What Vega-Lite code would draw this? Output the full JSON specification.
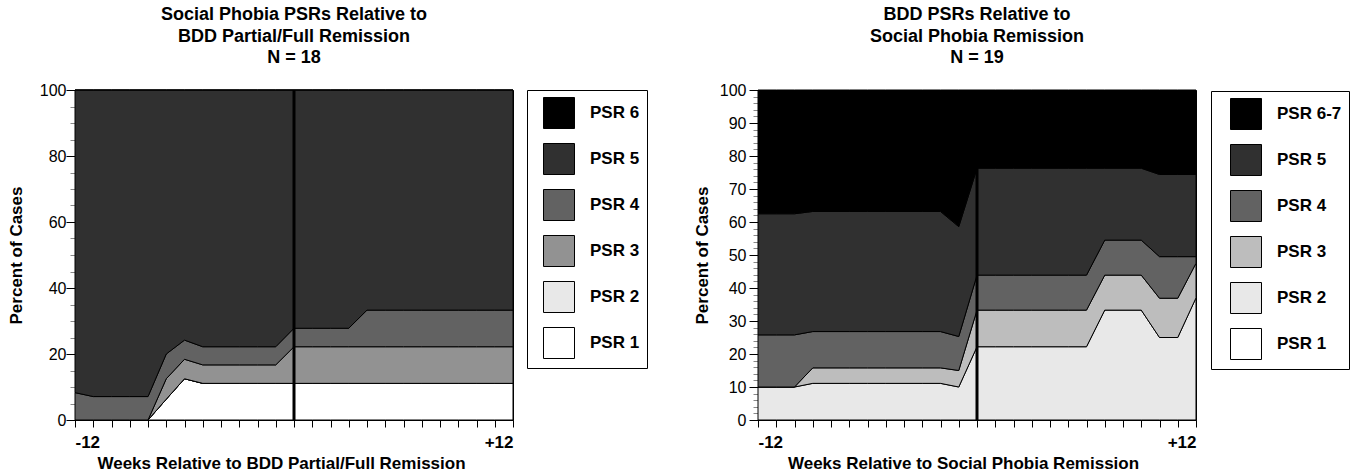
{
  "$schema": "https://vega.github.io/schema/vega-lite/v6.json",
  "background": "white",
  "padding": {"left": 6, "top": 5, "right": 0, "bottom": 0},
  "config": {
    "font": "Liberation Sans",
    "view": {"stroke": "black", "strokeWidth": 1},
    "axis": {"grid": false, "domainColor": "black", "tickColor": "black", "tickWidth": 1, "tickRound": true, "labelColor": "black", "titleColor": "black", "labelFont": "Liberation Sans", "titleFont": "Liberation Sans"},
    "title": {"font": "Liberation Sans", "fontSize": 18, "fontWeight": "bold", "lineHeight": 21.5, "color": "black", "anchor": "middle", "offset": 15},
    "legend": {"labelFont": "Liberation Sans"}
  },
  "datasets": {
    "left": [
      {"week": -12, "PSR 1": 0, "PSR 2": 0, "PSR 3": 0, "PSR 4": 8.3, "PSR 5": 91.7, "PSR 6": 0},
      {"week": -11, "PSR 1": 0, "PSR 2": 0, "PSR 3": 0, "PSR 4": 7.1, "PSR 5": 92.9, "PSR 6": 0},
      {"week": -10, "PSR 1": 0, "PSR 2": 0, "PSR 3": 0, "PSR 4": 7.1, "PSR 5": 92.9, "PSR 6": 0},
      {"week": -9, "PSR 1": 0, "PSR 2": 0, "PSR 3": 0, "PSR 4": 7.1, "PSR 5": 92.9, "PSR 6": 0},
      {"week": -8, "PSR 1": 0, "PSR 2": 0, "PSR 3": 0, "PSR 4": 7.1, "PSR 5": 92.9, "PSR 6": 0},
      {"week": -7, "PSR 1": 6.3, "PSR 2": 0, "PSR 3": 6.2, "PSR 4": 7.5, "PSR 5": 80, "PSR 6": 0},
      {"week": -6, "PSR 1": 12.5, "PSR 2": 0, "PSR 3": 5.9, "PSR 4": 5.8, "PSR 5": 75.8, "PSR 6": 0},
      {"week": -5, "PSR 1": 11.1, "PSR 2": 0, "PSR 3": 5.6, "PSR 4": 5.5, "PSR 5": 77.8, "PSR 6": 0},
      {"week": -4, "PSR 1": 11.1, "PSR 2": 0, "PSR 3": 5.6, "PSR 4": 5.5, "PSR 5": 77.8, "PSR 6": 0},
      {"week": -3, "PSR 1": 11.1, "PSR 2": 0, "PSR 3": 5.6, "PSR 4": 5.5, "PSR 5": 77.8, "PSR 6": 0},
      {"week": -2, "PSR 1": 11.1, "PSR 2": 0, "PSR 3": 5.6, "PSR 4": 5.5, "PSR 5": 77.8, "PSR 6": 0},
      {"week": -1, "PSR 1": 11.1, "PSR 2": 0, "PSR 3": 5.6, "PSR 4": 5.5, "PSR 5": 77.8, "PSR 6": 0},
      {"week": 0, "PSR 1": 11.1, "PSR 2": 0, "PSR 3": 11.1, "PSR 4": 5.6, "PSR 5": 72.2, "PSR 6": 0},
      {"week": 1, "PSR 1": 11.1, "PSR 2": 0, "PSR 3": 11.1, "PSR 4": 5.6, "PSR 5": 72.2, "PSR 6": 0},
      {"week": 2, "PSR 1": 11.1, "PSR 2": 0, "PSR 3": 11.1, "PSR 4": 5.6, "PSR 5": 72.2, "PSR 6": 0},
      {"week": 3, "PSR 1": 11.1, "PSR 2": 0, "PSR 3": 11.1, "PSR 4": 5.6, "PSR 5": 72.2, "PSR 6": 0},
      {"week": 4, "PSR 1": 11.1, "PSR 2": 0, "PSR 3": 11.1, "PSR 4": 11.1, "PSR 5": 66.7, "PSR 6": 0},
      {"week": 5, "PSR 1": 11.1, "PSR 2": 0, "PSR 3": 11.1, "PSR 4": 11.1, "PSR 5": 66.7, "PSR 6": 0},
      {"week": 6, "PSR 1": 11.1, "PSR 2": 0, "PSR 3": 11.1, "PSR 4": 11.1, "PSR 5": 66.7, "PSR 6": 0},
      {"week": 7, "PSR 1": 11.1, "PSR 2": 0, "PSR 3": 11.1, "PSR 4": 11.1, "PSR 5": 66.7, "PSR 6": 0},
      {"week": 8, "PSR 1": 11.1, "PSR 2": 0, "PSR 3": 11.1, "PSR 4": 11.1, "PSR 5": 66.7, "PSR 6": 0},
      {"week": 9, "PSR 1": 11.1, "PSR 2": 0, "PSR 3": 11.1, "PSR 4": 11.1, "PSR 5": 66.7, "PSR 6": 0},
      {"week": 10, "PSR 1": 11.1, "PSR 2": 0, "PSR 3": 11.1, "PSR 4": 11.1, "PSR 5": 66.7, "PSR 6": 0},
      {"week": 11, "PSR 1": 11.1, "PSR 2": 0, "PSR 3": 11.1, "PSR 4": 11.1, "PSR 5": 66.7, "PSR 6": 0},
      {"week": 12, "PSR 1": 11.1, "PSR 2": 0, "PSR 3": 11.1, "PSR 4": 11.1, "PSR 5": 66.7, "PSR 6": 0}
    ],
    "right": [
      {"week": -12, "PSR 1": 0, "PSR 2": 10, "PSR 3": 0, "PSR 4": 15.8, "PSR 5": 36.7, "PSR 6-7": 37.5},
      {"week": -11, "PSR 1": 0, "PSR 2": 10, "PSR 3": 0, "PSR 4": 15.8, "PSR 5": 36.7, "PSR 6-7": 37.5},
      {"week": -10, "PSR 1": 0, "PSR 2": 10, "PSR 3": 0, "PSR 4": 15.8, "PSR 5": 36.7, "PSR 6-7": 37.5},
      {"week": -9, "PSR 1": 0, "PSR 2": 11.1, "PSR 3": 4.7, "PSR 4": 11, "PSR 5": 36.4, "PSR 6-7": 36.8},
      {"week": -8, "PSR 1": 0, "PSR 2": 11.1, "PSR 3": 4.7, "PSR 4": 11, "PSR 5": 36.4, "PSR 6-7": 36.8},
      {"week": -7, "PSR 1": 0, "PSR 2": 11.1, "PSR 3": 4.7, "PSR 4": 11, "PSR 5": 36.4, "PSR 6-7": 36.8},
      {"week": -6, "PSR 1": 0, "PSR 2": 11.1, "PSR 3": 4.7, "PSR 4": 11, "PSR 5": 36.4, "PSR 6-7": 36.8},
      {"week": -5, "PSR 1": 0, "PSR 2": 11.1, "PSR 3": 4.7, "PSR 4": 11, "PSR 5": 36.4, "PSR 6-7": 36.8},
      {"week": -4, "PSR 1": 0, "PSR 2": 11.1, "PSR 3": 4.7, "PSR 4": 11, "PSR 5": 36.4, "PSR 6-7": 36.8},
      {"week": -3, "PSR 1": 0, "PSR 2": 11.1, "PSR 3": 4.7, "PSR 4": 11, "PSR 5": 36.4, "PSR 6-7": 36.8},
      {"week": -2, "PSR 1": 0, "PSR 2": 11.1, "PSR 3": 4.7, "PSR 4": 11, "PSR 5": 36.4, "PSR 6-7": 36.8},
      {"week": -1, "PSR 1": 0, "PSR 2": 10, "PSR 3": 5, "PSR 4": 10.3, "PSR 5": 33.3, "PSR 6-7": 41.4},
      {"week": 0, "PSR 1": 0, "PSR 2": 22.2, "PSR 3": 11.1, "PSR 4": 10.6, "PSR 5": 32.4, "PSR 6-7": 23.7},
      {"week": 1, "PSR 1": 0, "PSR 2": 22.2, "PSR 3": 11.1, "PSR 4": 10.6, "PSR 5": 32.4, "PSR 6-7": 23.7},
      {"week": 2, "PSR 1": 0, "PSR 2": 22.2, "PSR 3": 11.1, "PSR 4": 10.6, "PSR 5": 32.4, "PSR 6-7": 23.7},
      {"week": 3, "PSR 1": 0, "PSR 2": 22.2, "PSR 3": 11.1, "PSR 4": 10.6, "PSR 5": 32.4, "PSR 6-7": 23.7},
      {"week": 4, "PSR 1": 0, "PSR 2": 22.2, "PSR 3": 11.1, "PSR 4": 10.6, "PSR 5": 32.4, "PSR 6-7": 23.7},
      {"week": 5, "PSR 1": 0, "PSR 2": 22.2, "PSR 3": 11.1, "PSR 4": 10.6, "PSR 5": 32.4, "PSR 6-7": 23.7},
      {"week": 6, "PSR 1": 0, "PSR 2": 22.2, "PSR 3": 11.1, "PSR 4": 10.6, "PSR 5": 32.4, "PSR 6-7": 23.7},
      {"week": 7, "PSR 1": 0, "PSR 2": 33.3, "PSR 3": 10.6, "PSR 4": 10.6, "PSR 5": 21.8, "PSR 6-7": 23.7},
      {"week": 8, "PSR 1": 0, "PSR 2": 33.3, "PSR 3": 10.6, "PSR 4": 10.6, "PSR 5": 21.8, "PSR 6-7": 23.7},
      {"week": 9, "PSR 1": 0, "PSR 2": 33.3, "PSR 3": 10.6, "PSR 4": 10.6, "PSR 5": 21.8, "PSR 6-7": 23.7},
      {"week": 10, "PSR 1": 0, "PSR 2": 25, "PSR 3": 11.9, "PSR 4": 12.6, "PSR 5": 24.9, "PSR 6-7": 25.6},
      {"week": 11, "PSR 1": 0, "PSR 2": 25, "PSR 3": 11.9, "PSR 4": 12.6, "PSR 5": 24.9, "PSR 6-7": 25.6},
      {"week": 12, "PSR 1": 0, "PSR 2": 37, "PSR 3": 10.5, "PSR 4": 2, "PSR 5": 24.9, "PSR 6-7": 25.6}
    ]
  },
  "spacing": 44,
  "resolve": {"scale": {"color": "independent", "x": "independent", "y": "independent"}, "legend": {"color": "independent"}},
  "hconcat": [
    {
      "title": {"text": ["Social Phobia PSRs Relative to", "BDD Partial/Full Remission", "N = 18"]},
      "width": 438,
      "height": 330,
      "layer": [
        {
          "data": {"name": "left"},
          "transform": [{"fold": ["PSR 1", "PSR 2", "PSR 3", "PSR 4", "PSR 5", "PSR 6"], "as": ["psr", "pct"]}],
          "mark": {"type": "area", "stroke": "black", "strokeWidth": 1, "opacity": 1, "fillOpacity": 1, "interpolate": "linear"},
          "encoding": {
            "x": {"field": "week", "type": "quantitative", "scale": {"domain": [-12, 12], "nice": false},
              "axis": {"tickCount": 24,
                "labelExpr": "datum.value === -12 ? '-12' : datum.value === 12 ? '+12' : ''",
                "labelOverlap": false, "labelFontWeight": "bold", "labelFontSize": 17, "tickSize": 7, "labelPadding": 7,
                "title": "Weeks Relative to BDD Partial/Full Remission", "titleFontSize": 17, "titleFontWeight": "bold", "titlePadding": 5, "titleX": 206}},
            "y": {"field": "pct", "type": "quantitative", "stack": "zero", "scale": {"domain": [0, 100], "nice": false},
              "axis": {"values": [0,5,10,15,20,25,30,35,40,45,50,55,60,65,70,75,80,85,90,95,100],
                "labelExpr": "datum.value % 20 === 0 ? datum.label : ''",
                "labelOverlap": false, "labelFontSize": 16, "labelPadding": 0,
                "tickSize": {"condition": {"test": "datum.value % 20 === 0", "value": 9}, "value": 5},
                "tickColor": {"condition": {"test": "datum.value % 20 === 0", "value": "black"}, "value": "#888888"},
                "title": "Percent of Cases", "titleFontSize": 17, "titleFontWeight": "bold", "titlePadding": 14}},
            "color": {"field": "psr", "type": "nominal",
              "scale": {"domain": ["PSR 6", "PSR 5", "PSR 4", "PSR 3", "PSR 2", "PSR 1"], "range": ["#000000", "#303030", "#626262", "#929292", "#e8e8e8", "#ffffff"]},
              "legend": {"orient": "none", "legendX": 452, "legendY": 0, "title": null, "symbolType": "square", "symbolSize": 961,
                "symbolStrokeColor": "black", "symbolStrokeWidth": 1, "symbolOpacity": 1, "labelFontSize": 17, "labelFontWeight": "bold",
                "labelColor": "black", "labelOffset": 15, "rowPadding": 10, "padding": 7, "symbolOffset": 9,
                "strokeColor": "black", "fillColor": "white"}},
            "order": {"field": "psr", "sort": "ascending"}
          }
        },
        {
          "data": {"values": [{"week": 0}]},
          "mark": {"type": "rule", "strokeWidth": 3, "color": "black"},
          "encoding": {"x": {"field": "week", "type": "quantitative"}}
        }
      ]
    },
    {
      "title": {"text": ["BDD PSRs Relative to", "Social Phobia Remission", "N = 19"]},
      "width": 438,
      "height": 330,
      "layer": [
        {
          "data": {"name": "right"},
          "transform": [{"fold": ["PSR 1", "PSR 2", "PSR 3", "PSR 4", "PSR 5", "PSR 6-7"], "as": ["psr", "pct"]}],
          "mark": {"type": "area", "stroke": "black", "strokeWidth": 1, "opacity": 1, "fillOpacity": 1, "interpolate": "linear"},
          "encoding": {
            "x": {"field": "week", "type": "quantitative", "scale": {"domain": [-12, 12], "nice": false},
              "axis": {"tickCount": 24,
                "labelExpr": "datum.value === -12 ? '-12' : datum.value === 12 ? '+12' : ''",
                "labelOverlap": false, "labelFontWeight": "bold", "labelFontSize": 17, "tickSize": 7, "labelPadding": 7,
                "title": "Weeks Relative to Social Phobia Remission", "titleFontSize": 17, "titleFontWeight": "bold", "titlePadding": 5, "titleX": 205}},
            "y": {"field": "pct", "type": "quantitative", "stack": "zero", "scale": {"domain": [0, 100], "nice": false},
              "axis": {"values": [0,2,4,6,8,10,12,14,16,18,20,22,24,26,28,30,32,34,36,38,40,42,44,46,48,50,52,54,56,58,60,62,64,66,68,70,72,74,76,78,80,82,84,86,88,90,92,94,96,98,100],
                "labelExpr": "datum.value % 10 === 0 ? datum.label : ''",
                "labelOverlap": false, "labelFontSize": 16, "labelPadding": 3,
                "tickSize": {"condition": {"test": "datum.value % 10 === 0", "value": 9}, "value": 5},
                "tickColor": {"condition": {"test": "datum.value % 10 === 0", "value": "black"}, "value": "#888888"},
                "title": "Percent of Cases", "titleFontSize": 17, "titleFontWeight": "bold", "titlePadding": 8}},
            "color": {"field": "psr", "type": "nominal",
              "scale": {"domain": ["PSR 6-7", "PSR 5", "PSR 4", "PSR 3", "PSR 2", "PSR 1"], "range": ["#000000", "#303030", "#626262", "#bdbdbd", "#e8e8e8", "#ffffff"]},
              "legend": {"orient": "none", "legendX": 453, "legendY": 1, "title": null, "symbolType": "square", "symbolSize": 961,
                "symbolStrokeColor": "black", "symbolStrokeWidth": 1, "symbolOpacity": 1, "labelFontSize": 17, "labelFontWeight": "bold",
                "labelColor": "black", "labelOffset": 15, "rowPadding": 10, "padding": 7, "symbolOffset": 12,
                "strokeColor": "black", "fillColor": "white"}},
            "order": {"field": "psr", "sort": "ascending"}
          }
        },
        {
          "data": {"values": [{"week": 0}]},
          "mark": {"type": "rule", "strokeWidth": 3, "color": "black"},
          "encoding": {"x": {"field": "week", "type": "quantitative"}}
        }
      ]
    }
  ]
}
